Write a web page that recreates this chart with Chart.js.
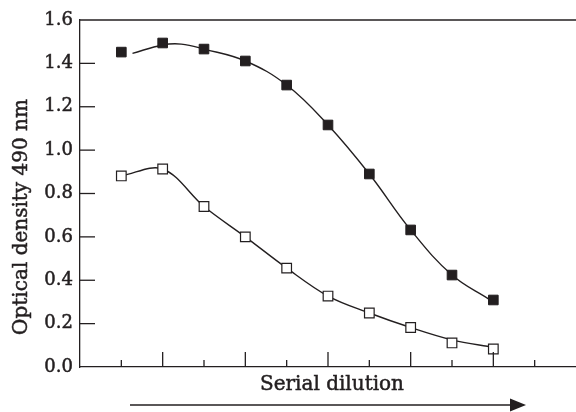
<!DOCTYPE html>
<html>
<head>
<meta charset="utf-8">
<script src="https://cdn.jsdelivr.net/npm/chart.js@4"></script>
<style>
  html, body { margin: 0; padding: 0; background: #fff; }
  canvas { display: block; }
</style>
</head>
<body>
<canvas id="chart" width="576" height="412"></canvas>
<script>
// DATA
const steps = [1, 2, 3, 4, 5, 6, 7, 8, 9, 10];
const filledOD = [1.452, 1.494, 1.466, 1.411, 1.300, 1.116, 0.890, 0.632, 0.424, 0.309];
const openOD = [0.881, 0.913, 0.740, 0.600, 0.456, 0.327, 0.249, 0.182, 0.111, 0.083];

// fitted curves drawn in the figure
const filledCurveX = [1.27, 2, 2.45, 3, 4, 5, 6, 7, 8, 9, 9.9];
const filledCurveY = [1.446, 1.485, 1.489, 1.466, 1.411, 1.300, 1.116, 0.890, 0.632, 0.424, 0.312];
const openCurveX = [1, 2, 3, 4, 5, 6, 7, 8, 9, 10];
const openCurveY = [0.881, 0.913, 0.740, 0.600, 0.456, 0.327, 0.249, 0.182, 0.125, 0.090];

const yLabel = "Optical density 490 nm";
const xLabel = "Serial dilution";

const ink = "#231f20";
const serif = "'DejaVu Serif', 'Liberation Serif', serif";

function pts(xs, ys) {
    return xs.map((x, i) => ({ x: x, y: ys[i] }));
}

// inside ticks, top frame, titles and the arrow
const decorations = {
    id: "decorations",
    afterDraw(chart) {
        const ctx = chart.ctx;
        const a = chart.chartArea;
        const x = chart.scales.x, y = chart.scales.y;
        ctx.save();
        ctx.strokeStyle = ink;
        ctx.lineWidth = 1.3;

        const seg = (x1, y1, x2, y2) => {
            ctx.beginPath();
            ctx.moveTo(x1, y1);
            ctx.lineTo(x2, y2);
            ctx.stroke();
        };

        seg(a.left, a.top, a.right, a.top);

        x.ticks.forEach(t => {
            if (t.value <= x.min || t.value >= x.max) return;
            const px = x.getPixelForValue(t.value);
            const len = t.value % 2 === 0 ? 15 : 7;
            seg(px, a.bottom, px, a.bottom - len);
        });

        y.ticks.forEach(t => {
            if (t.value <= y.min || t.value >= y.max) return;
            const py = y.getPixelForValue(t.value);
            const len = Math.round(t.value * 10) % 2 === 0 ? 15 : 8;
            seg(a.left, py, a.left + len, py);
        });

        // titles (thin stroke for the heavier print look)
        ctx.fillStyle = ink;
        ctx.font = "20px " + serif;
        ctx.textAlign = "center";
        ctx.textBaseline = "middle";
        ctx.lineWidth = 0.5;
        ctx.fillText(xLabel, 332, 385);
        ctx.strokeText(xLabel, 332, 385);

        ctx.translate(22, 217);
        ctx.rotate(-Math.PI / 2);
        ctx.fillText(yLabel, 0, 0);
        ctx.strokeText(yLabel, 0, 0);
        ctx.setTransform(1, 0, 0, 1, 0, 0);

        // arrow
        ctx.lineWidth = 1.4;
        seg(130, 405, 512, 405);
        ctx.beginPath();
        ctx.moveTo(526, 405);
        ctx.lineTo(510, 398.5);
        ctx.lineTo(510, 411.5);
        ctx.closePath();
        ctx.fill();

        ctx.restore();
    }
};

new Chart(document.getElementById("chart"), {
    type: "line",
    data: {
        datasets: [
            {
                data: pts(steps, filledOD),
                showLine: false,
                pointStyle: "rect",
                pointRadius: 6.8,
                backgroundColor: ink,
                borderColor: ink,
                borderWidth: 1
            },
            {
                data: pts(steps, openOD),
                showLine: false,
                pointStyle: "rect",
                pointRadius: 6.8,
                backgroundColor: "#fff",
                borderColor: ink,
                borderWidth: 1.2
            },
            {
                data: pts(filledCurveX, filledCurveY),
                borderColor: ink,
                borderWidth: 1.4,
                pointRadius: 0,
                tension: 0.4,
                fill: false
            },
            {
                data: pts(openCurveX, openCurveY),
                borderColor: ink,
                borderWidth: 1.4,
                pointRadius: 0,
                tension: 0.35,
                fill: false
            }
        ]
    },
    options: {
        responsive: false,
        animation: false,
        events: [],
        layout: { autoPadding: false, padding: { top: 20, right: 0, left: 0, bottom: 0 } },
        plugins: { legend: { display: false }, tooltip: { enabled: false } },
        scales: {
            x: {
                type: "linear",
                min: 0,
                max: 12,
                ticks: { display: false, stepSize: 1 },
                grid: { display: false, drawTicks: false },
                border: { display: true, color: ink, width: 1.3 },
                afterFit(s) { s.height = 45; }
            },
            y: {
                min: 0,
                max: 1.6,
                ticks: {
                    stepSize: 0.1,
                    padding: 7,
                    color: ink,
                    textStrokeColor: ink,
                    textStrokeWidth: 0.5,
                    font: { family: serif, size: 18 },
                    callback: v => Math.round(v * 10) % 2 === 0 ? v.toFixed(1) : ""
                },
                grid: { display: false, drawTicks: false },
                border: { display: true, color: ink, width: 1.3 },
                afterFit(s) { s.width = 80; }
            }
        }
    },
    plugins: [decorations]
});
</script>
</body>
</html>
